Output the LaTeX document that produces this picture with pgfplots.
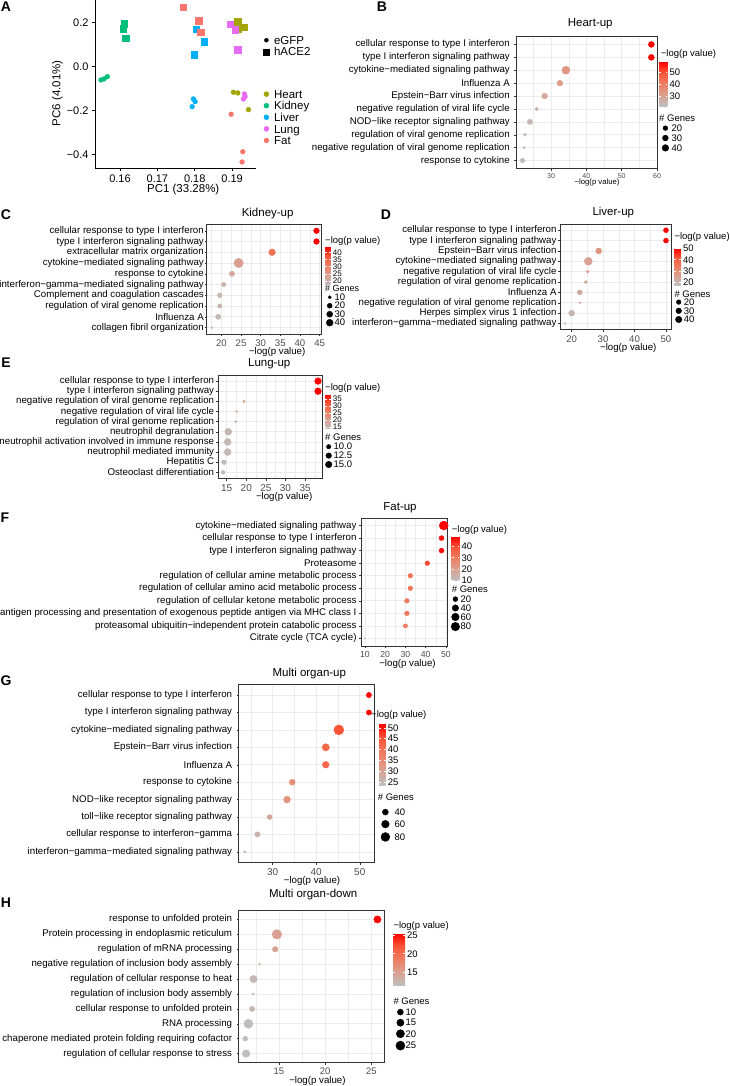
\documentclass[border=0pt]{standalone}
\usepackage{fontspec}
\setmainfont{Liberation Sans}
\usepackage{pgfplots}
\pgfplotsset{compat=1.18}
\definecolor{cHeart}{HTML}{A3A500}
\definecolor{cKidney}{HTML}{00BF7D}
\definecolor{cLiver}{HTML}{00B0F6}
\definecolor{cLung}{HTML}{E76BF3}
\definecolor{cFat}{HTML}{F8766D}
\definecolor{gridc}{HTML}{EBEBEB}
\definecolor{framec}{HTML}{333333}
\definecolor{tickc}{HTML}{4D4D4D}
\newcommand{\fs}[1]{\fontsize{#1}{#1}\selectfont}
\newcommand{\gsz}[5]{#1+(#2-#1)*sqrt(max(0,(#5-#3)/(#4-#3)))}
\pgfplotsset{
  /pgf/number format/assume math mode=true,
  colorbar shift/.style={},
  colormap={gr}{rgb255=(190,190,190) rgb255=(219,160,144) rgb255=(238,127,100) rgb255=(249,87,56) rgb255=(255,0,0)},
  every colorbar/.append style={scale only axis, at={(parent axis.north east)}, anchor=north west,
     axis line style={draw=none}, tick align=inside, major tick length=1.8pt, tick pos=both,
     tick style={draw=white, line width=0.6pt},
     yticklabel style={font=\fs{9.5}, text=black, inner sep=2pt}},
  enr/.style={
    scale only axis,
    y dir=reverse, ymin=0.4, ymax=10.6, ytick={1,...,10},
    axis line style={draw=framec, line width=1pt},
    xmajorgrids, xminorgrids, ymajorgrids,
    major grid style={draw=gridc, line width=0.7pt},
    minor grid style={draw=gridc, line width=0.4pt},
    tick align=outside, major tick length=2.2pt, minor tick length=0pt,
    tick pos=left,
    tick style={draw=framec, line width=0.5pt},
    yticklabel style={font=\fs{9.7}, text=black},
    xticklabel style={font=\fs{9.6}, text=tickc},
    xlabel={−log(p value)},
    xlabel style={font=\fs{9.7}, text=black, anchor=center},
    title style={font=\fs{11.5}, anchor=center},
    colorbar,
    legend cell align=left,
    legend style={at={(1,1)}, anchor=north west, draw=none, fill=none, inner sep=0pt,
       nodes={inner sep=0pt, font=\fs{9.5}, text height=6.5pt, text depth=0pt}},
    legend image code/.code={\path (-4.6pt,-3.5pt) (4.6pt,3.5pt); \draw[##1] plot coordinates {(0pt,0pt)};},
  },
  dots/.style n args={4}{
    scatter, only marks, mark=*, point meta=x, forget plot,
    scatter/use mapped color={draw=mapped color, fill=mapped color},
    visualization depends on={\gsz{#1}{#2}{#3}{#4}{\thisrow{g}} \as \msz},
    scatter/@pre marker code/.append style={/tikz/mark size=\msz},
  },
  cbar/.style n args={5}{colorbar style={xshift=#1, yshift=#2, width=#3, height=#4, ytick={#5}}},
  leg/.style n args={4}{legend style={xshift=#1, yshift=#2, row sep=#3, column sep=#4}},
  ygap/.style={yticklabel style={inner sep=#1}},
}
\begin{document}
\begin{tikzpicture}
\path[use as bounding box] (0pt,0pt) rectangle (730pt,-1086pt);
% ---------------- Panel A ----------------
\begin{axis}[
  at={(95pt,-168.3pt)}, anchor=south west, scale only axis, width=161pt, height=168.3pt,
  xmin=0.1533, xmax=0.1964, ymin=-0.4608, ymax=0.302,
  axis x line*=bottom, axis y line*=left,
  axis line style={black, line width=0.9pt, -},
  xtick={0.16,0.17,0.18,0.19}, xticklabels={0.16,0.17,0.18,0.19},
  ytick={-0.4,-0.2,0,0.2}, yticklabels={−0.4,−0.2,0.0,0.2},
  tick align=outside, major tick length=3pt, tick style={black, line width=0.8pt},
  ticklabel style={font=\fs{11}, text=black},
  xlabel={PC1 (33.28\%)}, ylabel={PC6 (4.01\%)},
  xlabel style={at={(axis description cs:0.548,-0.128)}, anchor=center, font=\fs{11.5}},
  ylabel style={at={(axis description cs:-0.234,0.446)}, anchor=center, font=\fs{11.5}},
  legend cell align=left,
  legend style={at={(1,1)}, anchor=north west, xshift=7pt, yshift=-35.85pt, draw=none, fill=none,
     inner sep=0pt, row sep=3.3pt, column sep=4.5pt,
     nodes={inner sep=0pt, font=\fs{11.5}, text height=8.3pt, text depth=0pt}},
  legend image code/.code={\path (-3pt,-3pt) (3pt,3pt); \draw[#1] plot coordinates {(0pt,0pt)};},
]
\addplot[only marks, mark=square*, color=cKidney, mark size=3.3pt, forget plot] coordinates {(0.16107,0.1936) (0.1608,0.171) (0.16153,0.1288)};
\addplot[only marks, mark=*, color=cKidney, mark size=2.4pt, forget plot] coordinates {(0.1549,-0.0603) (0.15571,-0.0558) (0.1566,-0.0454)};
\addplot[only marks, mark=square*, color=cLiver, mark size=3.3pt, forget plot] coordinates {(0.18036,0.1696) (0.1825,0.1134) (0.17982,0.0531)};
\addplot[only marks, mark=*, color=cLiver, mark size=2.4pt, forget plot] coordinates {(0.17964,-0.1465) (0.1801,-0.1587) (0.1793,-0.1814)};
\addplot[only marks, mark=square*, color=cFat, mark size=3.3pt, forget plot] coordinates {(0.17696,0.2694) (0.18098,0.2072) (0.18162,0.156)};
\addplot[only marks, mark=*, color=cFat, mark size=2.4pt, forget plot] coordinates {(0.18974,-0.2159) (0.19287,-0.3855) (0.19268,-0.4322)};
\addplot[only marks, mark=square*, color=cHeart, mark size=3.3pt, forget plot] coordinates {(0.19142,0.2041) (0.19303,0.1787) (0.19161,0.1723)};
\addplot[only marks, mark=*, color=cHeart, mark size=2.4pt, forget plot] coordinates {(0.19035,-0.1161) (0.19153,-0.1193) (0.19437,-0.195)};
\addplot[only marks, mark=square*, color=cLung, mark size=3.3pt, forget plot] coordinates {(0.18947,0.1923) (0.19081,0.1664) (0.19142,0.0757)};
\addplot[only marks, mark=*, color=cLung, mark size=2.4pt, forget plot] coordinates {(0.1933,-0.1238) (0.19349,-0.136) (0.19303,-0.1465)};
\addlegendimage{mark=*, black, mark size=2pt}\addlegendentry{eGFP}
\addlegendimage{mark=square*, black, mark size=3pt}\addlegendentry{hACE2}
\addlegendimage{legend image code/.code={\path (0pt,-13.5pt) (0pt,13.5pt);}}\addlegendentry{}
\addlegendimage{mark=*, cHeart, mark size=2.5pt}\addlegendentry{Heart}
\addlegendimage{mark=*, cKidney, mark size=2.5pt}\addlegendentry{Kidney}
\addlegendimage{mark=*, cLiver, mark size=2.5pt}\addlegendentry{Liver}
\addlegendimage{mark=*, cLung, mark size=2.5pt}\addlegendentry{Lung}
\addlegendimage{mark=*, cFat, mark size=2.5pt}\addlegendentry{Fat}
\end{axis}
% ---------------- Panel B ----------------
\begin{axis}[enr, ygap=3.8pt, at={(516pt,-168.3pt)}, anchor=south west, width=141.7pt, height=131.6pt,
  xmin=20.07, xmax=60.2, xtick={30,40,50,60}, minor xtick={25,35,45,55},
  xticklabel style={font=\fs{7}},
  xlabel style={font=\fs{7.7}, at={(axis description cs:0.572,-0.109)}},
  title={Heart-up}, title style={at={(axis description cs:0.524,1.051)}},
  yticklabels={cellular response to type I interferon, type I interferon signaling pathway, cytokine−mediated signaling pathway, Influenza A, Epstein−Barr virus infection, negative regulation of viral life cycle, NOD−like receptor signaling pathway, regulation of viral genome replication, negative regulation of viral genome replication, response to cytokine},
  cbar={1.6pt}{-25pt}{8pt}{44.3pt}{30,40,50},
  leg={2.7pt}{-87.5pt}{2.5pt}{1.4pt},
]
\addplot[dots={1.25}{4}{12}{60}] table[x=p, y=k] {
k p g
1 58.4 31.5
2 58.4 31.5
3 34.2 60
4 32.5 28.5
5 28.2 28.5
6 25.9 14.3
7 24.0 24.5
8 22.6 13
9 22.4 12
10 21.9 19.7
};
\addlegendimage{mark=*, black, mark size={\gsz{1.25}{4}{12}{60}{20}}}\addlegendentry{20}
\addlegendimage{mark=*, black, mark size={\gsz{1.25}{4}{12}{60}{30}}}\addlegendentry{30}
\addlegendimage{mark=*, black, mark size={\gsz{1.25}{4}{12}{60}{40}}}\addlegendentry{40}
\end{axis}
% ---------------- Panel C ----------------
\begin{axis}[enr, ygap=0.5pt, at={(206.7pt,-334pt)}, anchor=south west, width=115pt, height=109.7pt,
  xmin=16.27, xmax=45.53, xtick={20,25,...,45}, minor xtick={17.5,22.5,...,42.5},
  xlabel style={at={(axis description cs:0.613,-0.165)}},
  title={Kidney-up}, title style={at={(axis description cs:0.530,1.048)}},
  yticklabels={cellular response to type I interferon, type I interferon signaling pathway, extracellular matrix organization, cytokine−mediated signaling pathway, response to cytokine, interferon−gamma−mediated signaling pathway, Complement and coagulation cascades, regulation of viral genome replication, Influenza A, collagen fibril organization},
  cbar={3.3pt}{-22.4pt}{5.7pt}{37.6pt}{20,25,30,35,40},
  colorbar style={yticklabel style={font=\fs{8}}},
  leg={3.0pt}{-69pt}{1.1pt}{0pt},
]
\addplot[dots={1}{4.65}{8}{80}] table[x=p, y=k] {
k p g
1 44.2 26.5
2 44.2 26.5
3 32.9 37.8
4 24.4 80
5 22.7 22.7
6 20.6 15.2
7 19.6 17.8
8 19.6 15.2
9 19.2 22.7
10 17.6 8
};
\addlegendimage{mark=*, black, mark size={\gsz{1}{4.65}{8}{80}{10}}}\addlegendentry{10}
\addlegendimage{mark=*, black, mark size={\gsz{1}{4.65}{8}{80}{20}}}\addlegendentry{20}
\addlegendimage{mark=*, black, mark size={\gsz{1}{4.65}{8}{80}{30}}}\addlegendentry{30}
\addlegendimage{mark=*, black, mark size={\gsz{1}{4.65}{8}{80}{40}}}\addlegendentry{40}
\end{axis}
% ---------------- Panel D ----------------
\begin{axis}[enr, ygap=1.1pt, at={(560pt,-329.7pt)}, anchor=south west, width=111pt, height=105.7pt,
  xmin=16.3, xmax=51.6, xtick={20,30,40,50}, minor xtick={25,35,45},
  xlabel style={at={(axis description cs:0.615,-0.170)}},
  title={Liver-up}, title style={at={(axis description cs:0.480,1.054)}},
  yticklabels={cellular response to type I interferon, type I interferon signaling pathway, Epstein−Barr virus infection, cytokine−mediated signaling pathway, negative regulation of viral life cycle, regulation of viral genome replication, Influenza A, negative regulation of viral genome replication, Herpes simplex virus 1 infection, interferon−gamma−mediated signaling pathway},
  cbar={3.3pt}{-24.3pt}{6.7pt}{36.7pt}{20,30,40,50},
  leg={2.7pt}{-74.2pt}{1.3pt}{0.4pt},
]
\addplot[dots={1}{4}{9}{65}] table[x=p, y=k] {
k p g
1 50.0 23
2 50.0 23
3 28.6 33.9
4 25.3 65
5 25.1 10.6
6 24.5 10.6
7 22.6 23
8 22.6 9
9 20.0 33.9
10 17.9 9
};
\addlegendimage{mark=*, black, mark size={\gsz{1}{4}{9}{65}{20}}}\addlegendentry{20}
\addlegendimage{mark=*, black, mark size={\gsz{1}{4}{9}{65}{30}}}\addlegendentry{30}
\addlegendimage{mark=*, black, mark size={\gsz{1}{4}{9}{65}{40}}}\addlegendentry{40}
\end{axis}
% ---------------- Panel E ----------------
\begin{axis}[enr, ygap=1.8pt, at={(218.3pt,-478.4pt)}, anchor=south west, width=104.4pt, height=103.4pt,
  xmin=12.85, xmax=39.5, xtick={15,20,...,35}, minor xtick={17.5,22.5,...,37.5},
  xticklabel style={font=\fs{10}},
  xlabel style={at={(axis description cs:0.631,-0.175)}},
  title={Lung-up}, title style={at={(axis description cs:0.488,1.048)}},
  yticklabels={cellular response to type I interferon, type I interferon signaling pathway, negative regulation of viral genome replication, negative regulation of viral life cycle, regulation of viral genome replication, neutrophil degranulation, neutrophil activation involved in immune response, neutrophil mediated immunity, Hepatitis C, Osteoclast differentiation},
  cbar={2.3pt}{-19.3pt}{5.7pt}{34pt}{15,20,25,30,35},
  colorbar style={yticklabel style={font=\fs{8}}},
  leg={1.0pt}{-67.8pt}{1.5pt}{0.1pt},
]
\addplot[dots={1}{3.5}{8}{16.5}] table[x=p, y=k] {
k p g
1 38.3 15.5
2 38.3 15.5
3 19.4 8.05
4 17.55 8
5 17.3 8
6 15.4 16.5
7 15.25 16.5
8 15.25 16.5
9 14.3 10.5
10 14.06 9.4
};
\addlegendimage{mark=*, black, mark size={\gsz{1}{3.5}{8}{16.5}{10}}}\addlegendentry{10.0}
\addlegendimage{mark=*, black, mark size={\gsz{1}{3.5}{8}{16.5}{12.5}}}\addlegendentry{12.5}
\addlegendimage{mark=*, black, mark size={\gsz{1}{3.5}{8}{16.5}{15}}}\addlegendentry{15.0}
\end{axis}
% ---------------- Panel F ----------------
\begin{axis}[enr, ygap=2.1pt, at={(361pt,-646pt)}, anchor=south west, width=86.7pt, height=128pt,
  xmin=8.05, xmax=50.85, xtick={10,20,...,50}, minor xtick={15,25,35,45},
  xticklabel style={font=\fs{8.7}},
  xlabel style={at={(axis description cs:0.536,-0.142)}},
  title={Fat-up}, title style={at={(axis description cs:0.450,1.037)}},
  yticklabels={cytokine−mediated signaling pathway, cellular response to type I interferon, type I interferon signaling pathway, Proteasome, regulation of cellular amine metabolic process, regulation of cellular amino acid metabolic process, regulation of cellular ketone metabolic process, antigen processing and presentation of exogenous peptide antigen via MHC class I, proteasomal ubiquitin−independent protein catabolic process, Citrate cycle (TCA cycle)},
  cbar={4pt}{-18.7pt}{7.7pt}{43.3pt}{10,20,30,40},
  leg={2.7pt}{-77.2pt}{1.5pt}{0.4pt},
]
\addplot[dots={0.75}{4.5}{2}{90}] table[x=p, y=k] {
k p g
1 48.9 90
2 47.8 21
3 47.8 21
4 40.8 18
5 32.4 18
6 32.4 18
7 30.7 18
8 30.7 18
9 30.0 14.2
10 10.0 2
};
\addlegendimage{mark=*, black, mark size={\gsz{0.75}{4.5}{2}{90}{20}}}\addlegendentry{20}
\addlegendimage{mark=*, black, mark size={\gsz{0.75}{4.5}{2}{90}{40}}}\addlegendentry{40}
\addlegendimage{mark=*, black, mark size={\gsz{0.75}{4.5}{2}{90}{60}}}\addlegendentry{60}
\addlegendimage{mark=*, black, mark size={\gsz{0.75}{4.5}{2}{90}{80}}}\addlegendentry{80}
\end{axis}
% ---------------- Panel G ----------------
\begin{axis}[enr, ygap=4.2pt, at={(238.7pt,-862.3pt)}, anchor=south west, width=136.3pt, height=177.7pt,
  xmin=22.2, xmax=53.5, xtick={30,40,50}, minor xtick={25,35,45},
  xticklabel style={font=\fs{10}},
  xlabel style={at={(axis description cs:0.538,-0.104)}},
  title={Multi organ-up}, title style={at={(axis description cs:0.518,1.030)}},
  yticklabels={cellular response to type I interferon, type I interferon signaling pathway, cytokine−mediated signaling pathway, Epstein−Barr virus infection, Influenza A, response to cytokine, NOD−like receptor signaling pathway, toll−like receptor signaling pathway, cellular response to interferon−gamma, interferon−gamma−mediated signaling pathway},
  cbar={4pt}{-38.7pt}{6.7pt}{61.7pt}{25,30,35,40,45,50},
  leg={5.4pt}{-123.6pt}{4.5pt}{4.4pt},
]
\addplot[dots={1.15}{5}{22}{100}] table[x=p, y=k] {
k p g
1 52.1 33.8
2 52.1 33.8
3 45.2 100
4 42.2 54.9
5 42.2 47.5
6 34.5 40
7 33.3 51
8 29.3 31.6
9 26.5 33.8
10 23.6 22
};
\addlegendimage{mark=*, black, mark size={\gsz{1.15}{5}{22}{100}{40}}}\addlegendentry{40}
\addlegendimage{mark=*, black, mark size={\gsz{1.15}{5}{22}{100}{60}}}\addlegendentry{60}
\addlegendimage{mark=*, black, mark size={\gsz{1.15}{5}{22}{100}{80}}}\addlegendentry{80}
\end{axis}
% ---------------- Panel H ----------------
\begin{axis}[enr, ygap=4.2pt, at={(238.7pt,-1062.5pt)}, anchor=south west, width=145.3pt, height=152pt,
  xmin=10.65, xmax=26.36, xtick={15,20,25}, minor xtick={12.5,17.5,22.5},
  xticklabel style={font=\fs{9.5}},
  xlabel style={at={(axis description cs:0.542,-0.124)}},
  title={Multi organ-down}, title style={at={(axis description cs:0.513,1.0625)}},
  yticklabels={response to unfolded protein, Protein processing in endoplasmic reticulum, regulation of mRNA processing, negative regulation of inclusion body assembly, regulation of cellular response to heat, regulation of inclusion body assembly, cellular response to unfolded protein, RNA processing, chaperone mediated protein folding requiring cofactor, regulation of cellular response to stress},
  cbar={9.3pt}{-22.8pt}{11.7pt}{51.7pt}{15,20,25},
  leg={11.4pt}{-97.7pt}{3.2pt}{0.4pt},
]
\addplot[dots={1}{4.8}{3}{28}] table[x=p, y=k] {
k p g
1 25.65 15.2
2 14.78 28
3 14.6 8.9
4 12.9 3
5 12.25 15.2
6 12.2 3
7 12.1 7.7
8 11.7 24.2
9 11.36 6.9
10 11.45 17
};
\addlegendimage{mark=*, black, mark size={\gsz{1}{4.8}{3}{28}{10}}}\addlegendentry{10}
\addlegendimage{mark=*, black, mark size={\gsz{1}{4.8}{3}{28}{15}}}\addlegendentry{15}
\addlegendimage{mark=*, black, mark size={\gsz{1}{4.8}{3}{28}{20}}}\addlegendentry{20}
\addlegendimage{mark=*, black, mark size={\gsz{1}{4.8}{3}{28}{25}}}\addlegendentry{25}
\end{axis}
% ---------------- legend titles ----------------
\begin{scope}[every node/.style={anchor=west, inner sep=0pt, font=\fs{9.5}}]
\node at (660.7pt,-54.3pt) {−log(p value)};
\node at (659pt,-118.3pt) {\# Genes};
\node at (325pt,-240.7pt) {−log(p value)};
\node[font=\fs{9}] at (325pt,-288.6pt) {\# Genes};
\node at (674.3pt,-237.3pt) {−log(p value)};
\node at (674.3pt,-294.3pt) {\# Genes};
\node at (325pt,-388.3pt) {−log(p value)};
\node at (325pt,-437.6pt) {\# Genes};
\node at (451.7pt,-530pt) {−log(p value)};
\node at (451.7pt,-589.3pt) {\# Genes};
\node at (371pt,-715pt) {−log(p value)};
\node at (377.7pt,-797.7pt) {\# Genes};
\node at (393.3pt,-926pt) {−log(p value)};
\node at (393.3pt,-1001pt) {\# Genes};
\end{scope}
% ---------------- panel letters ----------------
\begin{scope}[every node/.style={inner sep=0pt, font=\bfseries\fs{14}}]
\node at (6pt,-7pt) {A};
\node at (382pt,-7pt) {B};
\node at (6pt,-215pt) {C};
\node at (386pt,-215pt) {D};
\node at (6pt,-363pt) {E};
\node at (5pt,-518pt) {F};
\node at (6pt,-680.5pt) {G};
\node at (6pt,-902.5pt) {H};
\end{scope}
\end{tikzpicture}
\end{document}
